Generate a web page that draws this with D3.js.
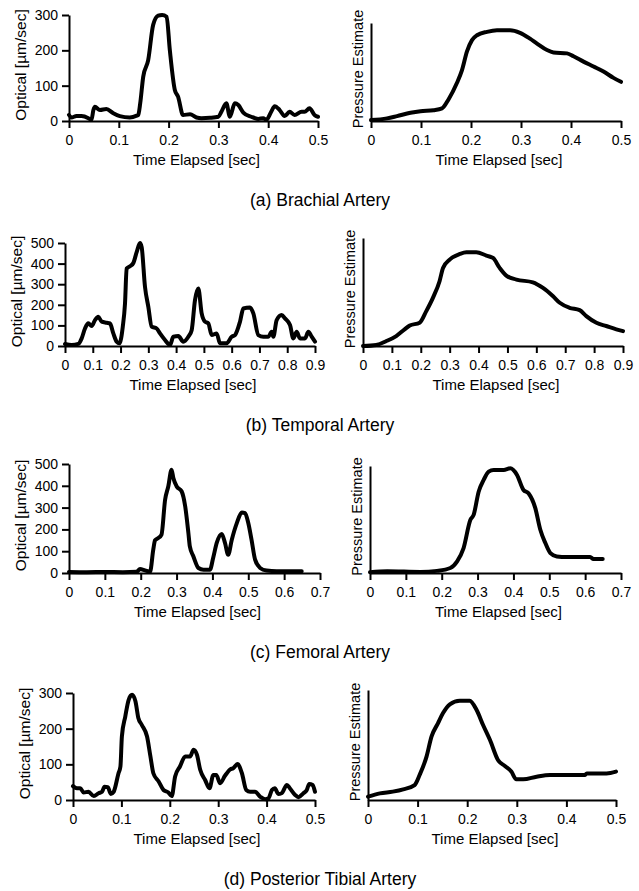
<!DOCTYPE html>
<html><head><meta charset="utf-8">
<script src="https://cdn.jsdelivr.net/npm/d3@7"></script>
<style>body{margin:0;background:#fff}svg{display:block}</style>
</head><body><svg id="c" width="639" height="891"></svg>
<script>
// ---------- DATA ----------
const captions = ["(a) Brachial Artery","(b) Temporal Artery","(c) Femoral Artery","(d) Posterior Tibial Artery"];
const timeTicks05 = [0,0.1,0.2,0.3,0.4,0.5];
const timeTicks07 = [0,0.1,0.2,0.3,0.4,0.5,0.6,0.7];
const timeTicks09 = [0,0.1,0.2,0.3,0.4,0.5,0.6,0.7,0.8,0.9];
const optTicks300 = [0,100,200,300];
const optTicks500 = [0,100,200,300,400,500];

// [time sec, optical µm/sec]
const brachialOptical = [[0,17],[0.005,10],[0.015,14],[0.025,14],[0.039,8],[0.045,3],[0.049,31],[0.052,40],[0.062,31],[0.075,34],[0.089,22],[0.102,14],[0.122,10],[0.136,15],[0.139,17],[0.143,50],[0.149,125],[0.159,172],[0.169,272],[0.179,298],[0.187,300],[0.196,295],[0.2025,200],[0.2125,88],[0.219,69],[0.229,17],[0.243,19],[0.256,10],[0.266,8],[0.283,9],[0.3,12],[0.306,26],[0.316,50],[0.323,12],[0.333,50],[0.34,45],[0.35,24],[0.366,12],[0.38,6],[0.39,8],[0.396,3],[0.406,26],[0.413,42],[0.423,31],[0.433,14],[0.443,26],[0.453,17],[0.467,26],[0.473,26],[0.483,36],[0.493,17],[0.5,12]];
// [time sec, pressure estimate (relative)]
const brachialPressure = [[0,0.01],[0.032,0.027],[0.052,0.05],[0.079,0.084],[0.099,0.10],[0.125,0.11],[0.142,0.128],[0.155,0.22],[0.172,0.39],[0.182,0.52],[0.192,0.71],[0.202,0.825],[0.212,0.875],[0.232,0.91],[0.252,0.926],[0.278,0.926],[0.298,0.9],[0.318,0.84],[0.332,0.79],[0.352,0.724],[0.365,0.7],[0.392,0.69],[0.405,0.66],[0.425,0.606],[0.445,0.556],[0.465,0.505],[0.485,0.44],[0.5,0.40]];

const temporalOptical = [[0,10],[0.024,5],[0.048,10],[0.06,37],[0.072,85],[0.084,110],[0.096,97],[0.108,126],[0.12,142],[0.132,118],[0.15,113],[0.162,110],[0.174,61],[0.186,21],[0.196,13],[0.208,94],[0.216,206],[0.222,376],[0.234,387],[0.246,403],[0.258,456],[0.27,500],[0.276,480],[0.288,287],[0.3,190],[0.312,94],[0.33,85],[0.342,61],[0.36,29],[0.378,5],[0.39,45],[0.408,48],[0.426,21],[0.444,45],[0.456,77],[0.468,223],[0.48,279],[0.492,158],[0.504,118],[0.516,110],[0.528,53],[0.546,61],[0.558,13],[0.582,13],[0.6,45],[0.612,53],[0.63,118],[0.642,182],[0.666,187],[0.678,158],[0.696,53],[0.714,45],[0.732,45],[0.744,69],[0.75,45],[0.762,126],[0.78,150],[0.792,134],[0.81,102],[0.822,37],[0.834,69],[0.846,37],[0.864,37],[0.876,69],[0.888,45],[0.9,21]];
const temporalPressure = [[0,0],[0.046,0.01],[0.081,0.046],[0.115,0.092],[0.144,0.154],[0.162,0.19],[0.196,0.215],[0.219,0.323],[0.242,0.446],[0.265,0.6],[0.277,0.723],[0.3,0.8],[0.335,0.852],[0.358,0.868],[0.392,0.868],[0.427,0.837],[0.45,0.815],[0.473,0.723],[0.496,0.652],[0.531,0.615],[0.588,0.59],[0.623,0.538],[0.658,0.46],[0.681,0.4],[0.715,0.354],[0.75,0.332],[0.773,0.277],[0.808,0.215],[0.842,0.185],[0.877,0.154],[0.9,0.138]];

const femoralOptical = [[0,5],[0.05,4],[0.1,5],[0.15,4],[0.189,6],[0.198,18],[0.212,12],[0.226,6],[0.235,107],[0.24,150],[0.249,160],[0.258,176],[0.268,336],[0.277,398],[0.286,474],[0.291,436],[0.3,398],[0.314,375],[0.324,306],[0.333,183],[0.337,122],[0.347,76],[0.361,23],[0.375,15],[0.393,15],[0.402,69],[0.412,138],[0.426,179],[0.435,138],[0.444,84],[0.454,153],[0.468,229],[0.482,278],[0.491,275],[0.5,229],[0.509,153],[0.519,61],[0.533,23],[0.551,11],[0.579,8],[0.616,8],[0.649,8]];
const femoralPressure = [[0,0.006],[0.048,0.016],[0.141,0.01],[0.187,0.02],[0.224,0.047],[0.243,0.109],[0.261,0.233],[0.28,0.497],[0.289,0.543],[0.303,0.76],[0.317,0.87],[0.331,0.947],[0.345,0.963],[0.373,0.963],[0.391,0.978],[0.41,0.916],[0.428,0.776],[0.442,0.745],[0.461,0.606],[0.475,0.404],[0.489,0.28],[0.503,0.186],[0.521,0.155],[0.549,0.149],[0.586,0.149],[0.614,0.149],[0.623,0.13],[0.649,0.13]];

const tibialOptical = [[0,39],[0.008,33],[0.015,33],[0.022,21],[0.032,23],[0.043,11],[0.053,19],[0.06,23],[0.065,37],[0.072,36],[0.078,17],[0.084,23],[0.094,75],[0.098,94],[0.101,178],[0.108,234],[0.115,281],[0.122,295],[0.129,277],[0.135,230],[0.142,211],[0.153,178],[0.16,122],[0.166,75],[0.177,52],[0.187,28],[0.197,21],[0.204,11],[0.211,66],[0.221,94],[0.232,122],[0.242,122],[0.249,141],[0.256,127],[0.263,84],[0.273,56],[0.282,33],[0.29,70],[0.296,70],[0.304,47],[0.314,68],[0.325,86],[0.331,89],[0.34,101],[0.349,75],[0.358,28],[0.366,23],[0.376,23],[0.387,9],[0.397,2],[0.404,5],[0.411,28],[0.417,33],[0.424,17],[0.431,19],[0.442,42],[0.448,33],[0.459,14],[0.466,8],[0.476,19],[0.483,28],[0.488,45],[0.495,42],[0.5,23]];
const tibialPressure = [[0,0.03],[0.024,0.06],[0.05,0.076],[0.071,0.097],[0.094,0.136],[0.104,0.227],[0.118,0.394],[0.128,0.576],[0.141,0.697],[0.151,0.788],[0.165,0.87],[0.185,0.903],[0.205,0.903],[0.219,0.818],[0.232,0.682],[0.246,0.545],[0.262,0.364],[0.276,0.309],[0.289,0.258],[0.299,0.188],[0.313,0.188],[0.34,0.212],[0.367,0.227],[0.4,0.227],[0.437,0.227],[0.441,0.242],[0.481,0.242],[0.5,0.258]];

// ---------- LAYOUT ----------
const FONT = "'Liberation Sans', Arial, Helvetica, sans-serif";
const rows = [
  {caption:0, base:121, left:{data:brachialOptical, xMax:0.5, xt:timeTicks05, yMax:300, yt:optTicks300, x0:69, x1:318, top:15},
                      right:{data:brachialPressure, xMax:0.5, xt:timeTicks05, x0:371, x1:621, top:23}},
  {caption:1, base:346, left:{data:temporalOptical, xMax:0.9, xt:timeTicks09, yMax:500, yt:optTicks500, x0:65, x1:315, top:243},
                      right:{data:temporalPressure, xMax:0.9, xt:timeTicks09, x0:363, x1:623, top:238}},
  {caption:2, base:573, left:{data:femoralOptical, xMax:0.7, xt:timeTicks07, yMax:500, yt:optTicks500, x0:69, x1:320, top:464},
                      right:{data:femoralPressure, xMax:0.7, xt:timeTicks07, x0:370, x1:621, top:466}},
  {caption:3, base:800, left:{data:tibialOptical, xMax:0.5, xt:timeTicks05, yMax:300, yt:optTicks300, x0:73, x1:315, top:693},
                      right:{data:tibialPressure, xMax:0.5, xt:timeTicks05, x0:368, x1:616, top:690}}
];

const svg = d3.select("#c");
const fmt = v => String(v);

function drawPanel(p, base, isOpt){
  const x = d3.scaleLinear().domain([0, p.xMax]).range([p.x0, p.x1]);
  const y = d3.scaleLinear().domain([0, isOpt ? p.yMax : 1]).range([base, p.top]);
  const g = svg.append("g");

  const xa = g.append("g").attr("transform", `translate(0,${base})`)
    .call(d3.axisBottom(x).tickValues(p.xt).tickFormat(fmt).tickSize(7).tickSizeOuter(0).tickPadding(7));
  const ya = g.append("g").attr("transform", `translate(${p.x0},0)`);
  if(isOpt){
    ya.call(d3.axisLeft(y).tickValues(p.yt).tickFormat(fmt).tickSize(7).tickSizeOuter(0).tickPadding(4));
  } else {
    ya.call(d3.axisLeft(y).tickValues([]).tickSizeOuter(0));
  }
  [xa, ya].forEach(a => {
    a.select(".domain").attr("stroke","#000").attr("stroke-width",2);
    a.selectAll(".tick line").attr("stroke","#000").attr("stroke-width",2);
    a.selectAll(".tick text").attr("fill","#000").style("font-family",FONT).style("font-size","14px");
  });

  g.append("path").datum(p.data)
    .attr("fill","none").attr("stroke","#000").attr("stroke-width",4)
    .attr("stroke-linejoin","round").attr("stroke-linecap","round")
    .attr("d", d3.line().x(d => x(d[0])).y(d => y(d[1])).curve(d3.curveMonotoneX));

  g.append("text").attr("x",(p.x0+p.x1)/2+3).attr("y",base+44)
    .attr("text-anchor","middle").style("font-family",FONT).style("font-size","15px")
    .text("Time Elapsed [sec]");

  const cy = (base + p.top)/2 - 3;
  const lx = isOpt ? p.x0 - 48 : p.x0 - 13;
  g.append("text").attr("transform",`translate(${lx},${cy}) rotate(-90)`)
    .attr("text-anchor","middle").attr("dy","0.35em")
    .style("font-family",FONT).style("font-size", isOpt ? "15.5px" : "14.5px")
    .text(isOpt ? "Optical [µm/sec]" : "Pressure Estimate");
}

rows.forEach(r => {
  drawPanel(r.left, r.base, true);
  drawPanel(r.right, r.base, false);
  svg.append("text").attr("x",320).attr("y",r.base+85)
    .attr("text-anchor","middle").style("font-family",FONT).style("font-size","17.5px")
    .text(captions[r.caption]);
});
</script></body></html>
